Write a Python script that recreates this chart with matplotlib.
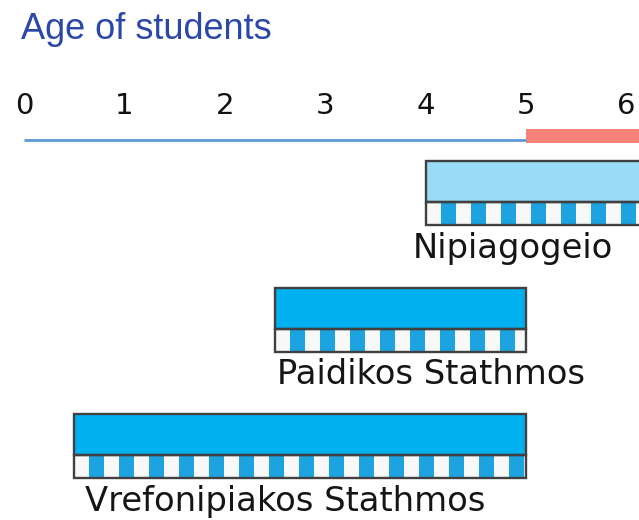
import matplotlib
matplotlib.use("Agg")
import matplotlib.pyplot as plt
from matplotlib.patches import Rectangle
import numpy as np

# ---- data ----
categories = ["Nipiagogeio", "Paidikos Stathmos", "Vrefonipiakos Stathmos"]
age_start = [4.0, 2.5, 0.5]
age_end = [6.5, 5.0, 5.0]
fill_colors = ["#9ADCF6", "#00B0F0", "#00B0F0"]
tick_values = [0, 1, 2, 3, 4, 5, 6]
preschool_span = [0, 5]
compulsory_span = [5, 7]
title = "Age of students"

# ---- layout (pixels -> data) ----
W, H = 639, 520
px_per_year = 100.4
x0_px = 24
row_px = 126.5
row0_top_px = 161

fig = plt.figure(figsize=(W / 100, H / 100), dpi=100)
ax = fig.add_axes([0, 0, 1, 1])
ax.set_xlim(-x0_px / px_per_year, (W - x0_px) / px_per_year)
ax.set_ylim((H - row0_top_px) / row_px, -row0_top_px / row_px)
ax.axis("off")

def py(px):
    return (px - row0_top_px) / row_px

# title
fig.text(21 / W, 1 - 39 / H, title, ha="left", va="baseline",
         fontsize=26, color="#2B48A8", family=["Liberation Sans", "DejaVu Sans"])

# tick numbers
for t in tick_values:
    ax.text(t, py(114), str(t), ha="center", va="baseline", fontsize=21,
            color="#111111", family="DejaVu Sans")

# timeline
ax.plot(preschool_span, [py(140), py(140)], color="#5B9BD5", lw=2.0,
        solid_capstyle="butt")
ax.add_patch(Rectangle((compulsory_span[0], py(129)),
                       compulsory_span[1] - compulsory_span[0], py(143) - py(129),
                       facecolor="#F4837B", edgecolor="none"))

solid_h = 41 / row_px
stripe_h = 23 / row_px
period = 30 / px_per_year
label_dx = [-0.13, 0.02, 0.11]

for i, (cat, s, e, c) in enumerate(zip(categories, age_start, age_end, fill_colors)):
    top = i
    # solid part
    ax.add_patch(Rectangle((s, top), e - s, solid_h, facecolor=c,
                           edgecolor="#404040", lw=1.7, zorder=3))
    # striped part
    ys = top + solid_h
    ax.add_patch(Rectangle((s, ys), e - s, stripe_h, facecolor="#F8F8F8",
                           edgecolor="none", zorder=2))
    for xs in np.arange(s + period / 2, e, period):
        w = min(period / 2, e - xs)
        ax.add_patch(Rectangle((xs, ys), w, stripe_h, facecolor="#1CA3E0",
                               edgecolor="none", zorder=2))
    ax.add_patch(Rectangle((s, ys), e - s, stripe_h, facecolor="none",
                           edgecolor="#404040", lw=1.7, zorder=3))
    # label
    ax.text(s + label_dx[i], top + 97 / row_px, cat, ha="left", va="baseline",
            fontsize=24.3, color="#151515", family="DejaVu Sans")

fig.savefig("out.png", dpi=100)
